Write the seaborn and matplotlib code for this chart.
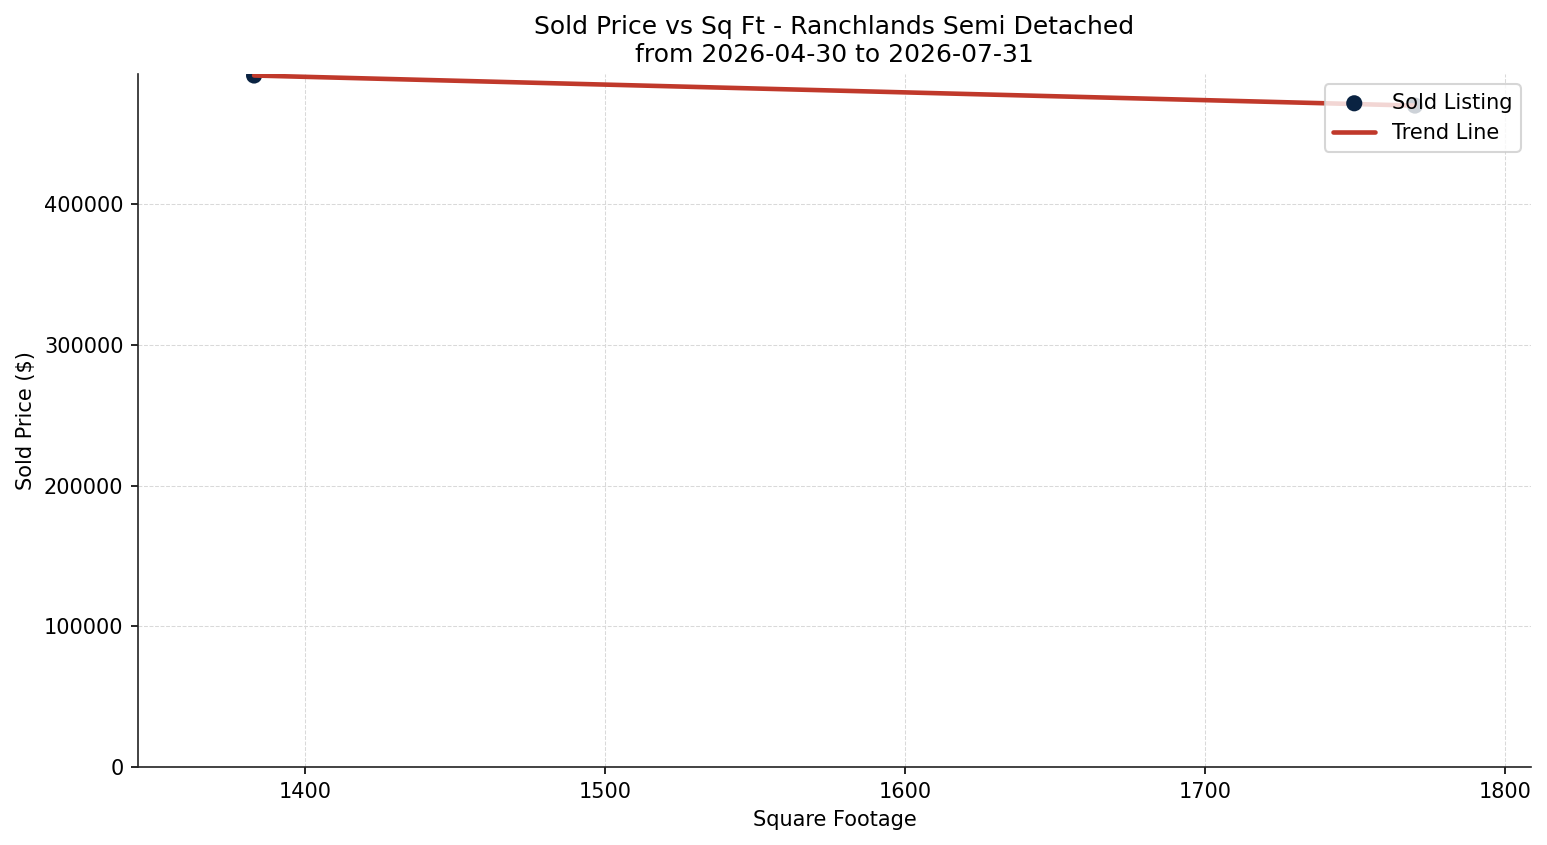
import matplotlib
matplotlib.use("Agg")
import matplotlib.pyplot as plt
import seaborn as sns
import pandas as pd

sqft = [1383, 1770]
sold_price = [491700, 470300]
title_area = "Ranchlands"
title_type = "Semi Detached"
date_from = "2026-04-30"
date_to = "2026-07-31"

df = pd.DataFrame({"sqft": sqft, "price": sold_price})

sns.set_style("ticks", {"text.color": "black", "axes.labelcolor": "black",
                        "xtick.color": "black", "ytick.color": "black",
                        "axes.edgecolor": "#222222"})
plt.rcParams['font.family'] = ['DejaVu Sans']

fig = plt.figure(figsize=(1547 / 150, 845 / 150), dpi=150)
ax = fig.add_axes([138 / 1547, 1 - 767 / 845, (1531 - 138) / 1547, (767 - 74) / 845])

sns.scatterplot(data=df, x="sqft", y="price", ax=ax, color="#0a2342", s=60,
                edgecolor="none", label="Sold Listing", zorder=2)
sns.regplot(data=df, x="sqft", y="price", ax=ax, scatter=False, ci=None,
            color="#c0392b", line_kws={"linewidth": 2.2, "zorder": 3},
            label="Trend Line", truncate=True)

ax.margins(x=0.1, y=0.05)
ax.set_ylim(bottom=0)
ax.grid(True, linestyle="--", linewidth=0.5, color="#d9d9d9")
ax.set_axisbelow(True)
sns.despine(ax=ax)

ax.set_title(f"Sold Price vs Sq Ft - {title_area} {title_type}\nfrom {date_from} to {date_to}",
             fontsize=12, color="black")
ax.set_xlabel("Square Footage", fontsize=10)
ax.set_ylabel("Sold Price ($)", fontsize=10)
ax.tick_params(labelsize=10)
ax.legend(loc="upper right", fontsize=10)

fig.savefig("out.png", dpi=150)
